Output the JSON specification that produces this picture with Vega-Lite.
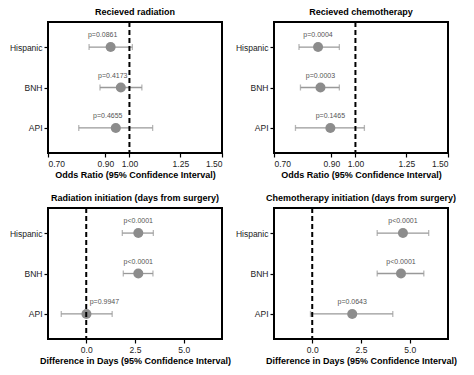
{
  "$schema": "https://vega.github.io/schema/vega-lite/v6.json",
  "background": "white",
  "padding": {"left": 8, "top": 7, "right": 4, "bottom": 4},
  "config": {
    "font": "Liberation Sans",
    "view": {"stroke": "black", "strokeWidth": 2},
    "axis": {
      "domain": false,
      "grid": false,
      "ticks": true,
      "tickColor": "black",
      "tickSize": 4,
      "tickWidth": 1.2,
      "labelColor": "#222",
      "labelFontSize": 8.5,
      "labelPadding": 2,
      "titleFontSize": 9,
      "titleFontWeight": "bold",
      "titleColor": "black",
      "titlePadding": 3
    },
    "title": {"fontSize": 9, "fontWeight": "bold", "color": "black", "offset": 4, "anchor": "middle"}
  },
  "datasets": {
    "estimates": [
      {"panel": "radiation", "group": "Hispanic", "est": 0.921, "lo": 0.838, "hi": 1.013, "p": "p=0.0861"},
      {"panel": "radiation", "group": "BNH", "est": 0.963, "lo": 0.879, "hi": 1.056, "p": "p=0.4173"},
      {"panel": "radiation", "group": "API", "est": 0.942, "lo": 0.801, "hi": 1.107, "p": "p=0.4655"},
      {"panel": "chemo", "group": "Hispanic", "est": 0.849, "lo": 0.781, "hi": 0.932, "p": "p=0.0004"},
      {"panel": "chemo", "group": "BNH", "est": 0.858, "lo": 0.786, "hi": 0.932, "p": "p=0.0003"},
      {"panel": "chemo", "group": "API", "est": 0.896, "lo": 0.769, "hi": 1.04, "p": "p=0.1465"},
      {"panel": "rad_days", "group": "Hispanic", "est": 2.67, "lo": 1.85, "hi": 3.44, "p": "p<0.0001"},
      {"panel": "rad_days", "group": "BNH", "est": 2.67, "lo": 1.9, "hi": 3.42, "p": "p<0.0001"},
      {"panel": "rad_days", "group": "API", "est": 0.01, "lo": -1.28, "hi": 1.33, "p": "p=0.9947"},
      {"panel": "chemo_days", "group": "Hispanic", "est": 4.65, "lo": 3.33, "hi": 5.97, "p": "p<0.0001"},
      {"panel": "chemo_days", "group": "BNH", "est": 4.55, "lo": 3.33, "hi": 5.72, "p": "p<0.0001"},
      {"panel": "chemo_days", "group": "API", "est": 2.05, "lo": -0.09, "hi": 4.13, "p": "p=0.0643"}
    ]
  },
  "columns": 2,
  "spacing": {"row": 12, "column": 2},
  "concat": [
    {
      "title": "Recieved radiation",
      "width": 174,
      "height": 131,
      "view": {"stroke": "black", "strokeWidth": 2},
      "data": {"name": "estimates"},
      "transform": [{"filter": "datum.panel == 'radiation'"}],
      "layer": [
        {
          "mark": {"type": "rule", "color": "#999", "strokeWidth": 1.3},
          "encoding": {
            "x": {"field": "lo", "type": "quantitative", "scale": {"type": "log", "domain": [0.7, 1.5], "nice": false, "zero": false},
                  "axis": {"values": [0.7, 0.9, 1, 1.25, 1.5], "format": ".2f"}, "title": "Odds Ratio (95% Confidence Interval)"},
            "x2": {"field": "hi"},
            "y": {"field": "group", "type": "nominal", "sort": ["Hispanic", "BNH", "API"], "scale": {"type": "point", "padding": 0.62}, "title": null}
          }
        },
        {
          "mark": {"type": "tick", "color": "#999", "thickness": 1.3, "size": 6},
          "encoding": {
            "x": {"field": "lo", "type": "quantitative"},
            "y": {"field": "group", "type": "nominal", "sort": ["Hispanic", "BNH", "API"]}
          }
        },
        {
          "mark": {"type": "tick", "color": "#999", "thickness": 1.3, "size": 6},
          "encoding": {
            "x": {"field": "hi", "type": "quantitative"},
            "y": {"field": "group", "type": "nominal", "sort": ["Hispanic", "BNH", "API"]}
          }
        },
        {
          "mark": {"type": "circle", "color": "#8c8c8c", "opacity": 1, "size": 100},
          "encoding": {
            "x": {"field": "est", "type": "quantitative"},
            "y": {"field": "group", "type": "nominal", "sort": ["Hispanic", "BNH", "API"]}
          }
        },
        {
          "mark": {"type": "text", "fontSize": 7, "color": "#555", "dy": -12, "dx": -8},
          "encoding": {
            "x": {"field": "est", "type": "quantitative"},
            "y": {"field": "group", "type": "nominal", "sort": ["Hispanic", "BNH", "API"]},
            "text": {"field": "p"}
          }
        },
        {
          "data": {"values": [{"ref": 1}]},
          "mark": {"type": "rule", "color": "black", "strokeWidth": 2, "strokeDash": [5, 3]},
          "encoding": {"x": {"field": "ref", "type": "quantitative"}}
        }
      ]
    },
    {
      "title": "Recieved chemotherapy",
      "width": 174,
      "height": 131,
      "view": {"stroke": "black", "strokeWidth": 2},
      "data": {"name": "estimates"},
      "transform": [{"filter": "datum.panel == 'chemo'"}],
      "layer": [
        {
          "mark": {"type": "rule", "color": "#999", "strokeWidth": 1.3},
          "encoding": {
            "x": {"field": "lo", "type": "quantitative", "scale": {"type": "log", "domain": [0.7, 1.5], "nice": false, "zero": false},
                  "axis": {"values": [0.7, 0.9, 1, 1.25, 1.5], "format": ".2f"}, "title": "Odds Ratio (95% Confidence Interval)"},
            "x2": {"field": "hi"},
            "y": {"field": "group", "type": "nominal", "sort": ["Hispanic", "BNH", "API"], "scale": {"type": "point", "padding": 0.62}, "title": null}
          }
        },
        {
          "mark": {"type": "tick", "color": "#999", "thickness": 1.3, "size": 6},
          "encoding": {
            "x": {"field": "lo", "type": "quantitative"},
            "y": {"field": "group", "type": "nominal", "sort": ["Hispanic", "BNH", "API"]}
          }
        },
        {
          "mark": {"type": "tick", "color": "#999", "thickness": 1.3, "size": 6},
          "encoding": {
            "x": {"field": "hi", "type": "quantitative"},
            "y": {"field": "group", "type": "nominal", "sort": ["Hispanic", "BNH", "API"]}
          }
        },
        {
          "mark": {"type": "circle", "color": "#8c8c8c", "opacity": 1, "size": 100},
          "encoding": {
            "x": {"field": "est", "type": "quantitative"},
            "y": {"field": "group", "type": "nominal", "sort": ["Hispanic", "BNH", "API"]}
          }
        },
        {
          "mark": {"type": "text", "fontSize": 7, "color": "#555", "dy": -12},
          "encoding": {
            "x": {"field": "est", "type": "quantitative"},
            "y": {"field": "group", "type": "nominal", "sort": ["Hispanic", "BNH", "API"]},
            "text": {"field": "p"}
          }
        },
        {
          "data": {"values": [{"ref": 1}]},
          "mark": {"type": "rule", "color": "black", "strokeWidth": 2, "strokeDash": [5, 3]},
          "encoding": {"x": {"field": "ref", "type": "quantitative"}}
        }
      ]
    },
    {
      "title": "Radiation initiation (days from surgery)",
      "width": 174,
      "height": 131,
      "view": {"stroke": "black", "strokeWidth": 2},
      "data": {"name": "estimates"},
      "transform": [{"filter": "datum.panel == 'rad_days'"}],
      "layer": [
        {
          "mark": {"type": "rule", "color": "#999", "strokeWidth": 1.3},
          "encoding": {
            "x": {"field": "lo", "type": "quantitative", "scale": {"domain": [-1.96, 6.96], "nice": false, "zero": false},
                  "axis": {"values": [0, 2.5, 5], "format": ".1f"}, "title": "Difference in Days (95% Confidence Interval)"},
            "x2": {"field": "hi"},
            "y": {"field": "group", "type": "nominal", "sort": ["Hispanic", "BNH", "API"], "scale": {"type": "point", "padding": 0.62}, "title": null}
          }
        },
        {
          "mark": {"type": "tick", "color": "#999", "thickness": 1.3, "size": 6},
          "encoding": {
            "x": {"field": "lo", "type": "quantitative"},
            "y": {"field": "group", "type": "nominal", "sort": ["Hispanic", "BNH", "API"]}
          }
        },
        {
          "mark": {"type": "tick", "color": "#999", "thickness": 1.3, "size": 6},
          "encoding": {
            "x": {"field": "hi", "type": "quantitative"},
            "y": {"field": "group", "type": "nominal", "sort": ["Hispanic", "BNH", "API"]}
          }
        },
        {
          "mark": {"type": "circle", "color": "#8c8c8c", "opacity": 1, "size": 100},
          "encoding": {
            "x": {"field": "est", "type": "quantitative"},
            "y": {"field": "group", "type": "nominal", "sort": ["Hispanic", "BNH", "API"]}
          }
        },
        {
          "transform": [{"filter": "datum.group != 'API'"}],
          "mark": {"type": "text", "fontSize": 7, "color": "#555", "dy": -12},
          "encoding": {
            "x": {"field": "est", "type": "quantitative"},
            "y": {"field": "group", "type": "nominal", "sort": ["Hispanic", "BNH", "API"]},
            "text": {"field": "p"}
          }
        },
        {
          "transform": [{"filter": "datum.group == 'API'"}],
          "mark": {"type": "text", "fontSize": 7, "color": "#555", "dy": -12, "dx": 18},
          "encoding": {
            "x": {"field": "est", "type": "quantitative"},
            "y": {"field": "group", "type": "nominal", "sort": ["Hispanic", "BNH", "API"]},
            "text": {"field": "p"}
          }
        },
        {
          "data": {"values": [{"ref": 0}]},
          "mark": {"type": "rule", "color": "black", "strokeWidth": 2, "strokeDash": [5, 3]},
          "encoding": {"x": {"field": "ref", "type": "quantitative"}}
        }
      ]
    },
    {
      "title": "Chemotherapy initiation (days from surgery)",
      "width": 174,
      "height": 131,
      "view": {"stroke": "black", "strokeWidth": 2},
      "data": {"name": "estimates"},
      "transform": [{"filter": "datum.panel == 'chemo_days'"}],
      "layer": [
        {
          "mark": {"type": "rule", "color": "#999", "strokeWidth": 1.3},
          "encoding": {
            "x": {"field": "lo", "type": "quantitative", "scale": {"domain": [-1.96, 6.96], "nice": false, "zero": false},
                  "axis": {"values": [0, 2.5, 5], "format": ".1f"}, "title": "Difference in Days (95% Confidence Interval)"},
            "x2": {"field": "hi"},
            "y": {"field": "group", "type": "nominal", "sort": ["Hispanic", "BNH", "API"], "scale": {"type": "point", "padding": 0.62}, "title": null}
          }
        },
        {
          "mark": {"type": "tick", "color": "#999", "thickness": 1.3, "size": 6},
          "encoding": {
            "x": {"field": "lo", "type": "quantitative"},
            "y": {"field": "group", "type": "nominal", "sort": ["Hispanic", "BNH", "API"]}
          }
        },
        {
          "mark": {"type": "tick", "color": "#999", "thickness": 1.3, "size": 6},
          "encoding": {
            "x": {"field": "hi", "type": "quantitative"},
            "y": {"field": "group", "type": "nominal", "sort": ["Hispanic", "BNH", "API"]}
          }
        },
        {
          "mark": {"type": "circle", "color": "#8c8c8c", "opacity": 1, "size": 100},
          "encoding": {
            "x": {"field": "est", "type": "quantitative"},
            "y": {"field": "group", "type": "nominal", "sort": ["Hispanic", "BNH", "API"]}
          }
        },
        {
          "mark": {"type": "text", "fontSize": 7, "color": "#555", "dy": -12},
          "encoding": {
            "x": {"field": "est", "type": "quantitative"},
            "y": {"field": "group", "type": "nominal", "sort": ["Hispanic", "BNH", "API"]},
            "text": {"field": "p"}
          }
        },
        {
          "data": {"values": [{"ref": 0}]},
          "mark": {"type": "rule", "color": "black", "strokeWidth": 2, "strokeDash": [5, 3]},
          "encoding": {"x": {"field": "ref", "type": "quantitative"}}
        }
      ]
    }
  ]
}
